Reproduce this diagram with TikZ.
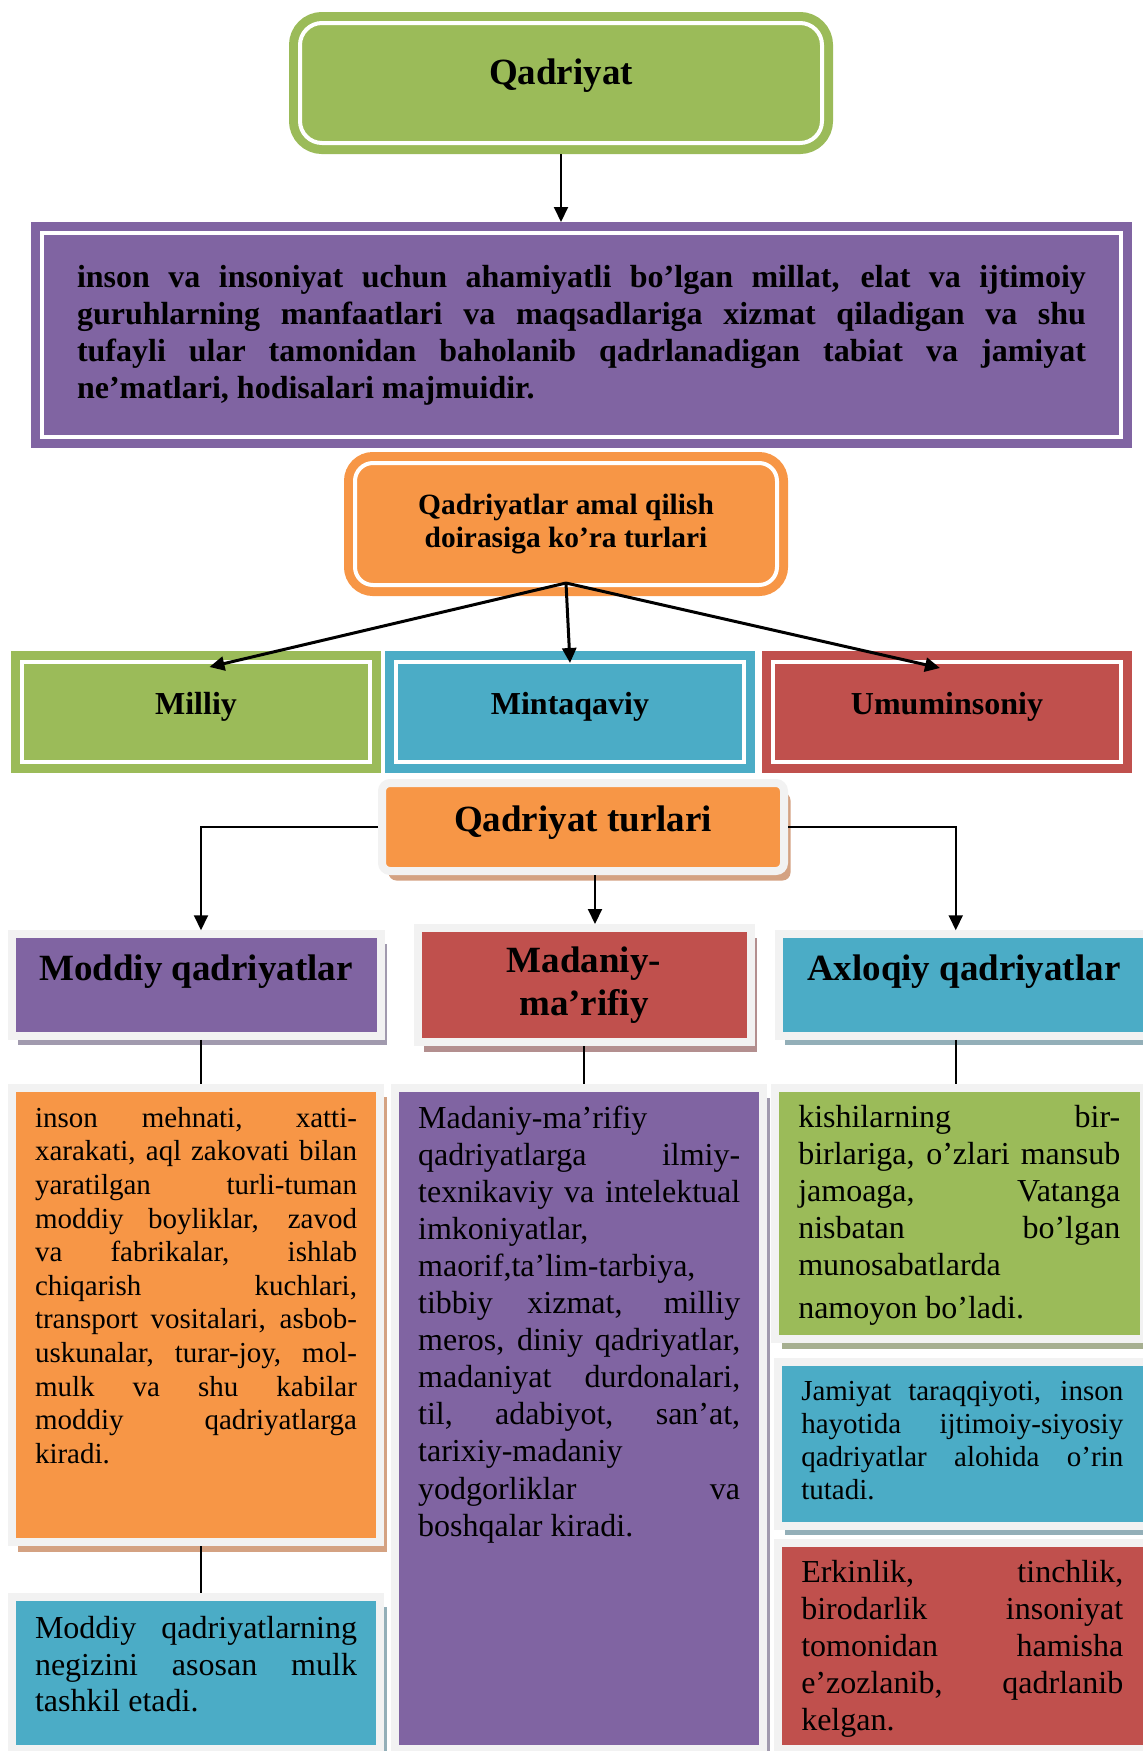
\documentclass[tikz,border=0pt]{standalone}
\usepackage{fontspec}
\setmainfont{Liberation Serif}
\usetikzlibrary{arrows.meta, positioning, shadows}

\definecolor{qgreen}{HTML}{9BBB59}
\definecolor{qpurple}{HTML}{8064A2}
\definecolor{qorange}{HTML}{F79646}
\definecolor{qblue}{HTML}{4BACC6}
\definecolor{qred}{HTML}{C0504D}
\definecolor{qframe}{HTML}{F2F2F2}
\definecolor{shorange}{HTML}{D4A282}
\definecolor{shpurple}{HTML}{A19AAE}
\definecolor{shred}{HTML}{B38F8F}
\definecolor{shblue}{HTML}{93AFB8}
\definecolor{shgreen}{HTML}{A6AF90}

\tolerance=10000
\hbadness=10000
\hyphenpenalty=10000

\begin{document}
\begin{tikzpicture}[
    x=0.5pt, y=-0.5pt,
    ringbox/.style={
      draw=#1, fill=#1,
      double=white, double distance=2pt,
      line width=4.5pt,
      outer sep=5.5pt,
      inner sep=0pt,
      align=center
    },
    shadebox/.style 2 args={
      draw=qframe, fill=#1,
      line width=4pt,
      outer sep=2pt,
      inner sep=0pt,
      align=center,
      drop shadow={shadow xshift=3.25pt, shadow yshift=-4.75pt, fill=#2, opacity=1}
    },
    textpart/.style 2 args={
      text width=161pt,
      align=justify,
      inner xsep=11.625pt,
      inner ysep=0pt,
      text height=#1,
      text depth=#2
    },
    bigfont/.style={font=\fontsize{18.5}{21.5}\selectfont\bfseries},
    midfont/.style={font=\fontsize{16}{18.5}\selectfont\bfseries},
    bodyfont/.style={font=\fontsize{16}{18.5}\selectfont},
    smallfont/.style={font=\fontsize{14.5}{16.8}\selectfont},
    link/.style={line width=0.9pt},
    arrowlink/.style={-{Triangle[length=7.5pt, width=7pt]}, line width=1pt}
  ]

  \useasboundingbox (0,0) rectangle (1143,1751);

  % ===================== yuqori qism =====================
  \node[ringbox=qgreen, bigfont, rounded corners=11pt,
        minimum width=261pt, minimum height=60pt,
        text height=13pt, text depth=12pt] (qadr) at (561,83) {Qadriyat};

  \node[ringbox=qpurple, midfont, text width=504.5pt, align=justify,
        minimum width=539.5pt, minimum height=102pt] (defn) at (581.5,335)
    {inson va insoniyat uchun ahamiyatli bo’lgan millat, elat va ijtimoiy\linebreak
     guruhlarning manfaatlari va maqsadlariga xizmat qiladigan va shu\linebreak
     tufayli ular tamonidan baholanib qadrlanadigan tabiat va jamiyat\linebreak
     ne’matlari, hodisalari majmuidir.};

  \node[ringbox=qorange, font=\fontsize{14.7}{16.5}\selectfont\bfseries,
        rounded corners=9pt, minimum width=211pt, minimum height=61pt]
    (amal) at (566,524) {Qadriyatlar amal qilish\\doirasiga ko’ra turlari};

  % ===================== amal qilish doirasi =====================
  \node[ringbox=qblue, midfont, minimum width=174pt, minimum height=50pt,
        text height=11pt, text depth=8.5pt] (mintaq) at (570,712) {Mintaqaviy};
  \node[ringbox=qgreen, midfont, minimum width=174pt, minimum height=50pt,
        text height=11pt, text depth=8.5pt, left=2pt of mintaq] (milliy) {Milliy};
  \node[ringbox=qred, midfont, minimum width=174pt, minimum height=50pt,
        text height=11pt, text depth=8.5pt, right=3.5pt of mintaq] (umum) {Umuminsoniy};

  % ===================== qadriyat turlari =====================
  \node[shadebox={qorange}{shorange}, bigfont, rounded corners=4pt,
        minimum width=201pt, minimum height=44pt,
        text height=12.5pt, text depth=7.9pt] (turlari) at (583,827) {Qadriyat turlari};

  \node[shadebox={qred}{shred}, bigfont, minimum width=166.5pt, minimum height=57pt]
    (madaniyH) at (584,985) {Madaniy-\\ma’rifiy};
  \node[shadebox={qpurple}{shpurple}, bigfont, minimum width=184.5pt, minimum height=50.75pt,
        text height=12.5pt, text depth=17pt, left=14.5pt of madaniyH] (moddiyH) {Moddiy qadriyatlar};
  \node[shadebox={qblue}{shblue}, bigfont, minimum width=185.25pt, minimum height=50.75pt,
        text height=12.5pt, text depth=17pt, right=10pt of madaniyH] (axloqH) {Axloqiy qadriyatlar};

  % ===================== izohlar =====================
  \node[shadebox={qorange}{shorange}, smallfont, textpart={19.75pt}{207.5pt},
        below=22pt of moddiyH] (moddiyC)
    {inson mehnati, xatti-\linebreak
     xarakati, aql zakovati bilan\linebreak
     yaratilgan turli-tuman\linebreak
     moddiy boyliklar, zavod\linebreak
     va fabrikalar, ishlab\linebreak
     chiqarish kuchlari,\linebreak
     transport vositalari, asbob-\linebreak
     uskunalar, turar-joy, mol-\linebreak
     mulk va shu kabilar\linebreak
     moddiy qadriyatlarga\linebreak
     kiradi.};

  \node[shadebox={qblue}{shblue}, font=\fontsize{16}{18.2}\selectfont,
        textpart={20.75pt}{55pt}, below=23.5pt of moddiyC] (moddiyC2)
    {Moddiy qadriyatlarning\linebreak
     negizini asosan mulk\linebreak
     tashkil etadi.};

  \node[shadebox={qpurple}{shpurple}, font=\fontsize{16}{18.55}\selectfont,
        textpart={20pt}{310.5pt}, below=19pt of madaniyH, xshift=-2.4pt] (madaniyC)
    {Madaniy-ma’rifiy\\
     qadriyatlarga ilmiy-\linebreak
     texnikaviy va intelektual\linebreak
     imkoniyatlar,\\
     maorif,ta’lim-tarbiya,\\
     tibbiy xizmat, milliy\linebreak
     meros, diniy qadriyatlar,\linebreak
     madaniyat durdonalari,\linebreak
     til, adabiyot, san’at,\linebreak
     tarixiy-madaniy\\
     yodgorliklar va\linebreak
     boshqalar kiradi.};

  \node[shadebox={qgreen}{shgreen}, bodyfont, textpart={20pt}{105.75pt},
        below=22pt of axloqH, xshift=-2.25pt] (axloqC1)
    {kishilarning bir-\linebreak
     birlariga, o’zlari mansub\linebreak
     jamoaga, Vatanga\linebreak
     nisbatan bo’lgan\linebreak
     munosabatlarda\\[2.8pt]
     namoyon bo’ladi.};

  \node[shadebox={qblue}{shblue}, smallfont, font=\fontsize{14.5}{16.5}\selectfont,
        textpart={19.25pt}{62.75pt}, below=7.25pt of axloqC1, xshift=1.5pt] (axloqC2)
    {Jamiyat taraqqiyoti, inson\linebreak
     hayotida ijtimoiy-siyosiy\linebreak
     qadriyatlar alohida o’rin\linebreak
     tutadi.};

  \node[shadebox={qred}{shred}, bodyfont, textpart={19.75pt}{83pt},
        below=4.75pt of axloqC2] (axloqC3)
    {Erkinlik, tinchlik,\linebreak
     birodarlik insoniyat\linebreak
     tomonidan hamisha\linebreak
     e’zozlanib, qadrlanib\linebreak
     kelgan.};

  % ===================== strelkalar =====================
  \draw[arrowlink] (qadr.south) -- (qadr.south |- defn.north);

  \coordinate (fork) at ([yshift=6.5pt]amal.south);
  \draw[arrowlink, line width=1.5pt] (fork) -- ([xshift=6.75pt, yshift=-8pt]milliy.north);
  \draw[arrowlink, line width=1.5pt] (fork) -- ([yshift=-6pt]mintaq.north);
  \draw[arrowlink, line width=1.5pt] (fork) -- ([xshift=-3.5pt, yshift=-8.5pt]umum.north);

  \draw[arrowlink] (turlari.west) -| ([xshift=2.5pt]moddiyH.north);
  \draw[arrowlink] ([xshift=6pt]turlari.south) -- ([xshift=6pt]turlari.south |- madaniyH.north);
  \draw[arrowlink] (turlari.east) -| ([xshift=-4pt]axloqH.north);

  % ===================== bog'lovchi chiziqlar =====================
  \draw[link] ([xshift=2.5pt]moddiyH.south) -- ([xshift=2.5pt]moddiyH.south |- moddiyC.north);
  \draw[link] (madaniyH.south) -- (madaniyH.south |- madaniyC.north);
  \draw[link] ([xshift=-4pt]axloqH.south) -- ([xshift=-4pt]axloqH.south |- axloqC1.north);
  \draw[link] ([xshift=2.5pt]moddiyC.south) -- ([xshift=2.5pt]moddiyC.south |- moddiyC2.north);

\end{tikzpicture}
\end{document}
